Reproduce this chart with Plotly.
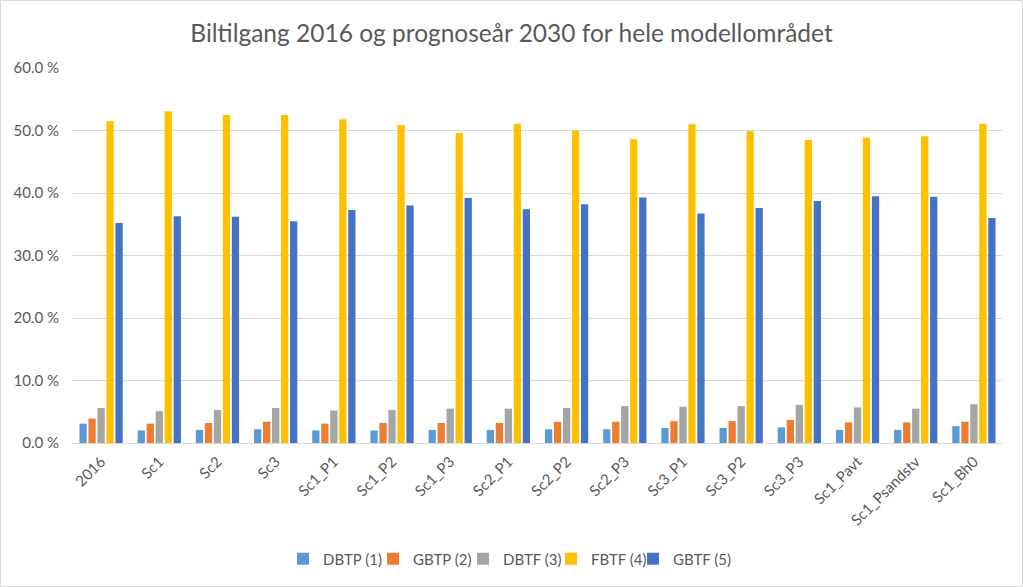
import plotly.graph_objects as go

categories = ["2016", "Sc1", "Sc2", "Sc3", "Sc1_P1", "Sc1_P2", "Sc1_P3", "Sc2_P1",
              "Sc2_P2", "Sc2_P3", "Sc3_P1", "Sc3_P2", "Sc3_P3", "Sc1_Pavt",
              "Sc1_Psandstv", "Sc1_Bh0"]

dbtp = [3.1, 2.0, 2.1, 2.2, 2.0, 2.0, 2.1, 2.1, 2.2, 2.2, 2.4, 2.4, 2.5, 2.1, 2.1, 2.7]
gbtp = [3.9, 3.1, 3.2, 3.4, 3.1, 3.2, 3.2, 3.2, 3.4, 3.4, 3.5, 3.5, 3.7, 3.3, 3.3, 3.4]
dbtf = [5.6, 5.1, 5.3, 5.6, 5.2, 5.3, 5.5, 5.5, 5.6, 5.9, 5.8, 5.9, 6.1, 5.7, 5.5, 6.2]
fbtf = [51.5, 53.1, 52.5, 52.5, 51.8, 50.9, 49.6, 51.1, 50.0, 48.6, 51.0, 49.9, 48.5, 48.9, 49.1, 51.1]
gbtf = [35.2, 36.3, 36.2, 35.5, 37.3, 38.0, 39.2, 37.4, 38.2, 39.3, 36.7, 37.6, 38.7, 39.5, 39.4, 36.0]

series_names = ["DBTP (1)", "GBTP (2)", "DBTF (3)", "FBTF (4)", "GBTF (5)"]
series_values = [dbtp, gbtp, dbtf, fbtf, gbtf]
colors = ["#5B9BD5", "#ED7D31", "#A5A5A5", "#FFC000", "#4472C4"]

title = "Biltilgang 2016 og prognoseår 2030 for hele modellområdet"
font_family = "Lato, 'Open Sans', sans-serif"

W, H = 1023, 587
ml, mr, mt, mb = 72, 20, 68, 144
pw, ph = W - ml - mr, H - mt - mb

# legend entry positions (pixel x of each legend symbol)
legend_marker_px = [302, 392, 482, 570, 652]
marker_offset = 19
legend_y = -(559 - mt - ph) / ph

fig = go.Figure()
legend_layouts = {}
for i, (name, vals, col) in enumerate(zip(series_names, series_values, colors)):
    key = "legend" if i == 0 else f"legend{i + 1}"
    fig.add_trace(go.Bar(x=categories, y=vals, name=name, marker_color=col,
                         marker_line_width=0, legend=key))
    legend_layouts[key] = dict(
        orientation="h", y=legend_y, yanchor="middle", xanchor="left",
        x=(legend_marker_px[i] - marker_offset - ml) / pw,
        font=dict(size=15, color="#595959"), itemwidth=30,
        bgcolor="rgba(0,0,0,0)")

fig.update_layout(
    width=W, height=H,
    margin=dict(l=ml, r=mr, t=mt, b=mb, pad=0),
    paper_bgcolor="white", plot_bgcolor="white",
    font=dict(family=font_family, color="#595959", size=15),
    title=dict(text=title, x=0.5, xanchor="center", y=1 - 33 / H, yanchor="middle",
               font=dict(size=24.5, color="#595959", family=font_family)),
    barmode="group", bargap=0.227, bargroupgap=0.19,
    showlegend=True,
    xaxis=dict(tickangle=-45, showline=True, linecolor="#D9D9D9", linewidth=1,
               ticks="", showgrid=False, tickfont=dict(size=15, color="#595959"),
               ticklabelstandoff=3),
    yaxis=dict(range=[0, 60], dtick=10, tickformat=".1f", ticksuffix=" %",
               showgrid=True, gridcolor="#D9D9D9", gridwidth=1, zeroline=False,
               showline=False, ticks="", tickfont=dict(size=15, color="#595959"),
               ticklabelstandoff=12),
    shapes=[dict(type="rect", xref="paper", yref="paper",
                 x0=(0.5 - ml) / pw, x1=(W - 0.5 - ml) / pw,
                 y0=-(H - 0.5 - mt - ph) / ph, y1=1 + (mt - 0.5) / ph,
                 line=dict(color="#D9D9D9", width=1), fillcolor="rgba(0,0,0,0)",
                 layer="below")],
    **legend_layouts,
)

fig.write_html("out.html", config={"displayModeBar": False},
               post_script="document.body.style.margin='0px';document.body.style.overflow='hidden';")
